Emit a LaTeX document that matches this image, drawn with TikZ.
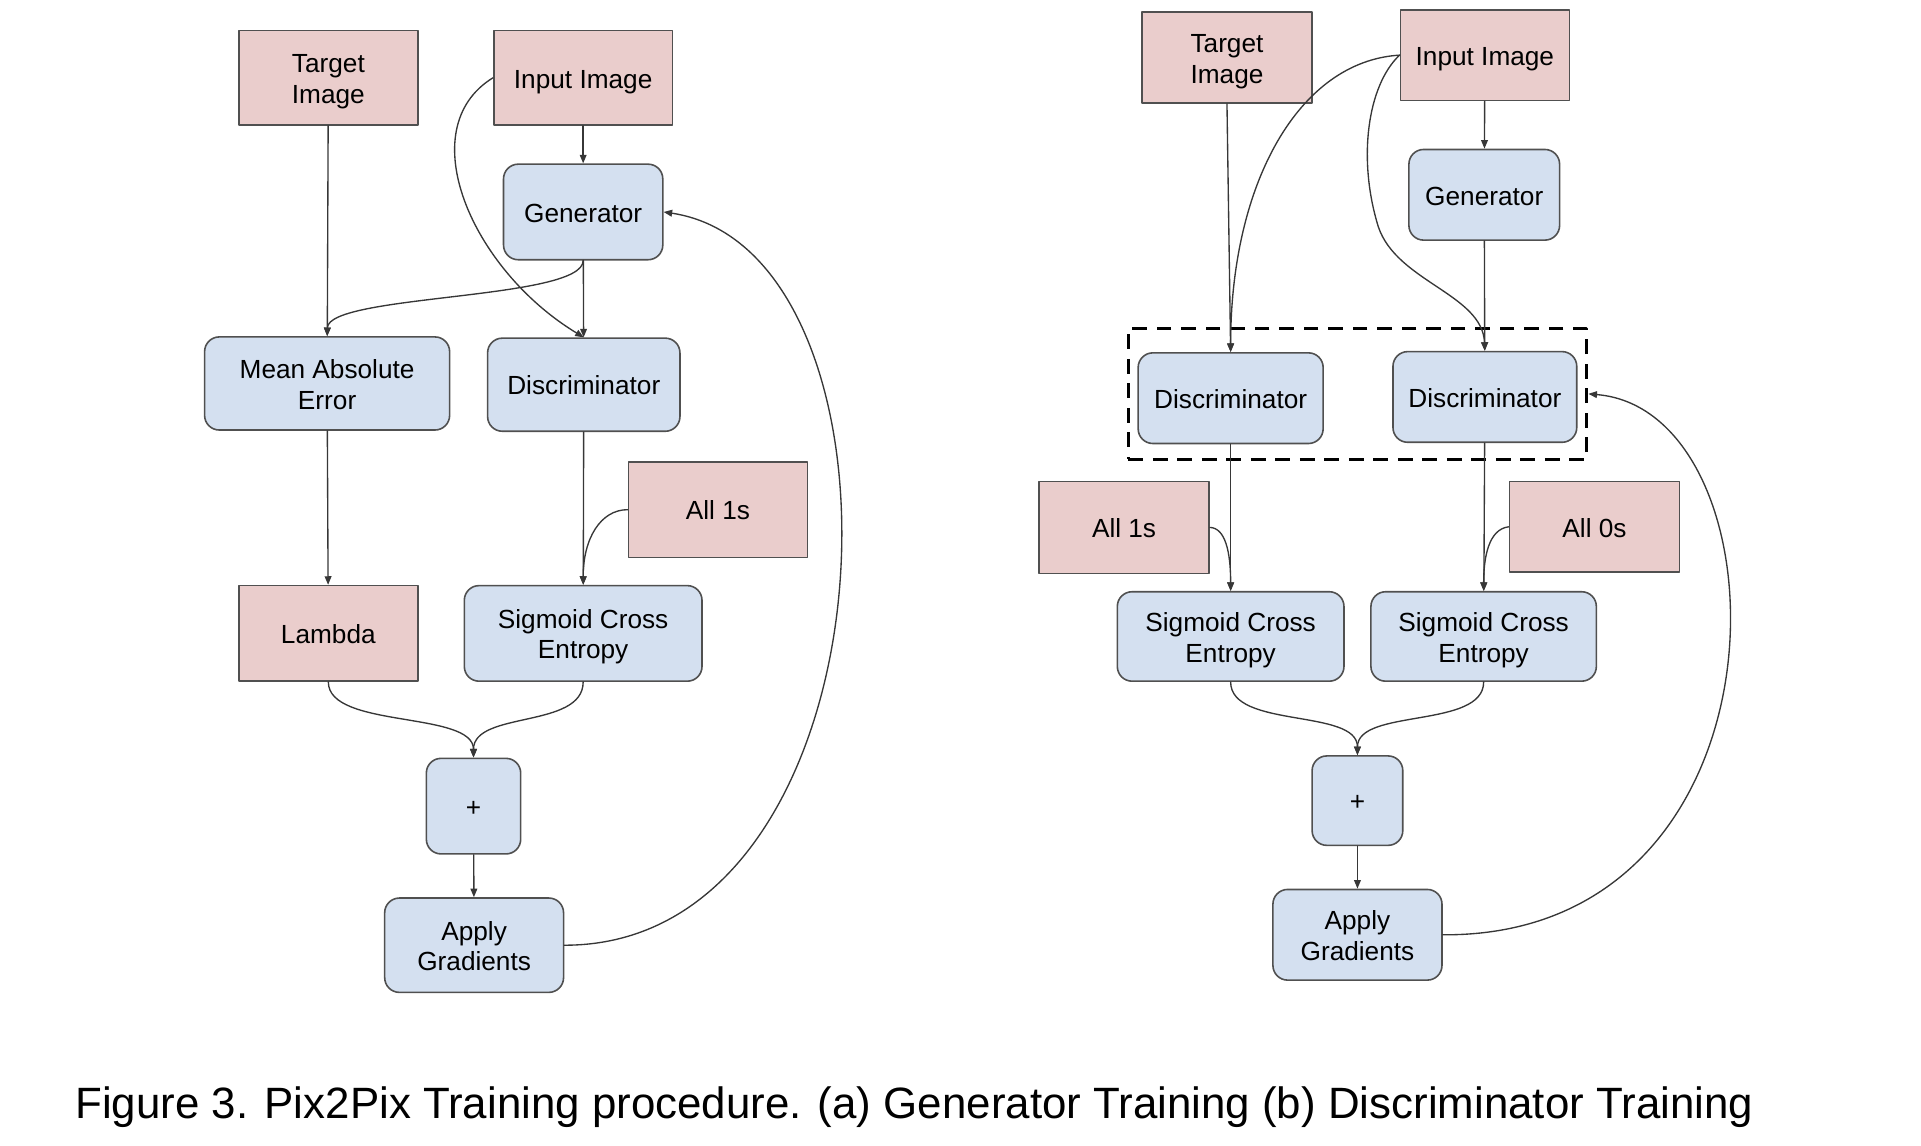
\documentclass[tikz,border=0pt]{standalone}
\usepackage{fontspec}
\setmainfont{Liberation Sans}
\usetikzlibrary{arrows.meta}
\usepackage{xcolor}
\definecolor{boxpink}{RGB}{234,205,204}
\definecolor{boxblue}{RGB}{212,224,240}
\definecolor{edgegray}{RGB}{80,80,80}
\definecolor{wiregray}{RGB}{55,55,55}

\begin{document}
\begin{tikzpicture}[x=1pt,y=-1pt,line width=1.1pt,line cap=round,line join=round,
  every node/.style={font=\fontsize{21.4}{25}\selectfont,align=center,inner sep=0pt},
  boxtext/.style={execute at begin node={\rule[-4.5pt]{0pt}{25.7pt}},
    execute at end node={\rule[-4.5pt]{0pt}{25.7pt}}},
  twoline/.style={execute at begin node={\rule[-4.5pt]{0pt}{50.7pt}}},
  data/.style={boxtext,draw=edgegray,line width=1.3pt,fill=boxpink},
  op/.style={boxtext,draw=edgegray,line width=1.3pt,fill=boxblue,rounded corners=12pt},
  group/.style={draw=black,line width=3pt,line cap=butt,dash pattern=on 12pt off 8pt},
  wire/.style={draw=wiregray,line width=1.1pt,-{Triangle[length=7pt,width=5.5pt]}}]
  \path[use as bounding box] (0,0) rectangle (1568,935);

  % (a) generator training
  \node[data,twoline,minimum width=146pt,minimum height=77pt] (gTarget) at (268,63.5) {Target\\Image};
  \node[data,minimum width=146pt,minimum height=77pt] (gInput) at (476,63.5) {Input Image};
  \node[op,minimum width=130pt,minimum height=78pt] (gGen) at (476,173) {Generator};
  \node[op,twoline,minimum width=200pt,minimum height=76pt] (gMae) at (267,313) {Mean Absolute\\Error};
  \node[op,minimum width=157pt,minimum height=76pt] (gDisc) at (476.5,314) {Discriminator};
  \node[data,minimum width=146pt,minimum height=78pt] (gOnes) at (586,416) {All 1s};
  \node[data,minimum width=146pt,minimum height=78pt] (gLambda) at (268,517) {Lambda};
  \node[op,twoline,minimum width=194pt,minimum height=78pt] (gSce) at (476,517) {Sigmoid Cross\\Entropy};
  \node[op,minimum width=77pt,minimum height=78pt] (gPlus) at (386.5,658) {+};
  \node[op,twoline,minimum width=146pt,minimum height=77pt] (gApply) at (387,771.5) {Apply\\Gradients};

  \draw[wire] (gTarget) -- (gMae);
  \draw[wire] (gInput) -- (gGen);
  \draw[wire] (gGen) -- (gDisc);
  \draw[wire] (gGen.south) .. controls (476,245) and (268,240) .. (gMae.north);
  \draw[wire] (gInput.west) .. controls (335,105) and (385,220) .. (gDisc.north);
  \draw[wire] (gOnes.west) .. controls (490,416) and (476,440) .. (gSce.north);
  \draw[wire] (gMae) -- (gLambda);
  \draw[wire] (gDisc) -- (gSce);
  \draw[wire] (gLambda.south) .. controls (268,595) and (386.5,580) .. (gPlus.north);
  \draw[wire] (gSce.south) .. controls (476,595) and (386.5,580) .. (gPlus.north);
  \draw[wire] (gPlus) -- (gApply);
  \draw[wire] (gApply.east) .. controls (735,772) and (755,205) .. (gGen.east);

  % (b) discriminator training
  \node[data,twoline,minimum width=139pt,minimum height=74pt] (dTarget) at (1001.5,47) {Target\\Image};
  \node[data,minimum width=138pt,minimum height=74pt] (dInput) at (1212,45) {Input Image};
  \node[op,minimum width=123pt,minimum height=74pt] (dGen) at (1211.5,159) {Generator};
  \node[group,minimum width=374pt,minimum height=107pt] (dGroup) at (1108,321.5) {};
  \node[op,minimum width=151pt,minimum height=74pt] (dDiscA) at (1004.5,325) {Discriminator};
  \node[op,minimum width=150pt,minimum height=74pt] (dDiscB) at (1212,324) {Discriminator};
  \node[data,minimum width=139pt,minimum height=75pt] (dOnes) at (917.5,430.5) {All 1s};
  \node[data,minimum width=139pt,minimum height=74pt] (dZeros) at (1301.5,430) {All 0s};
  \node[op,twoline,minimum width=185pt,minimum height=73pt] (dSceA) at (1004.5,519.5) {Sigmoid Cross\\Entropy};
  \node[op,twoline,minimum width=184pt,minimum height=73pt] (dSceB) at (1211,519.5) {Sigmoid Cross\\Entropy};
  \node[op,minimum width=74pt,minimum height=73pt] (dPlus) at (1108,653.5) {+};
  \node[op,twoline,minimum width=138pt,minimum height=74pt] (dApply) at (1108,763) {Apply\\Gradients};

  \draw[wire] (dTarget.south) -- (dDiscA.north);
  \draw[wire] (dInput.west) .. controls (1060,50) and (1004.5,150) .. (dDiscA.north);
  \draw[wire] (dInput.west) .. controls (1116,70) and (1108,130) .. (1125,185)
    .. controls (1140,230) and (1210,240) .. (dDiscB.north);
  \draw[wire] (dInput) -- (dGen);
  \draw[wire] (dGen) -- (dDiscB);
  \draw[wire] (dDiscA) -- (dSceA);
  \draw[wire] (dOnes.east) .. controls (1000,431) and (1004.5,450) .. (dSceA.north);
  \draw[wire] (dDiscB) -- (dSceB);
  \draw[wire] (dZeros.west) .. controls (1215,432) and (1211,455) .. (dSceB.north);
  \draw[wire] (dSceA.south) .. controls (1004.5,595) and (1108,578) .. (dPlus.north);
  \draw[wire] (dSceB.south) .. controls (1211,595) and (1108,578) .. (dPlus.north);
  \draw[wire] (dPlus) -- (dApply);
  \draw[wire] (dApply.east) .. controls (1470,765) and (1462,335) .. (dGroup.east);

  \node[anchor=base west,font=\fontsize{35.8}{40}\selectfont] (caption) at (61,913)
    {Figure 3. Pix2Pix Training procedure. (a) Generator Training (b) Discriminator Training};
\end{tikzpicture}
\end{document}
